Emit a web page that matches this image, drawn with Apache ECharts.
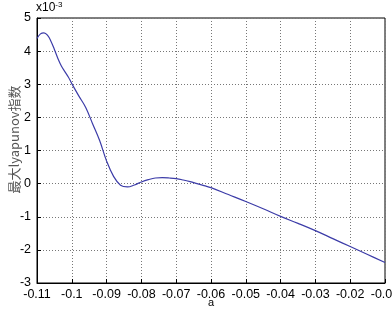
<!DOCTYPE html>
<html><head><meta charset="utf-8">
<script src="https://cdn.jsdelivr.net/npm/echarts@6/dist/echarts.min.js"></script>
<style>html,body{margin:0;padding:0;background:#fff}#c{width:392px;height:310px}</style>
</head><body><div id="c"></div>
<script>
const aValues = [-0.11,-0.109,-0.108,-0.107,-0.106,-0.105,-0.104,-0.103,-0.102,-0.101,-0.1,-0.098,-0.096,-0.094,-0.092,-0.09,-0.088,-0.086,-0.084,-0.082,-0.08,-0.078,-0.076,-0.074,-0.072,-0.07,-0.068,-0.066,-0.064,-0.062,-0.06,-0.055,-0.05,-0.045,-0.04,-0.035,-0.03,-0.025,-0.02,-0.015,-0.01];
const lyapunov = [4.38,4.52,4.55,4.48,4.3,4.05,3.78,3.55,3.38,3.22,3.02,2.65,2.3,1.8,1.3,0.68,0.22,-0.05,-0.1,-0.04,0.05,0.12,0.17,0.18,0.17,0.15,0.11,0.06,0.0,-0.06,-0.12,-0.33,-0.54,-0.76,-0.99,-1.2,-1.42,-1.66,-1.9,-2.14,-2.38];
const xTicks = {min:-0.11, max:-0.01, step:0.01};
const yTicks = {min:-3, max:5, step:1};
const font = 'Liberation Sans, Arial, sans-serif';
const chart = echarts.init(document.getElementById('c'));
chart.setOption({
  animation:false,
  grid:{left:37,right:7,top:18,bottom:27,show:true,borderColor:'#000',borderWidth:1,outerBoundsMode:'none',containLabel:false},
  graphic:[{type:'text',left:36,top:1,style:{text:'x10{s|-3}',fontSize:12,fill:'#000',fontFamily:font,
    rich:{s:{fontSize:8,verticalAlign:'top',padding:[0,0,6,0],fill:'#000',fontFamily:font}}}}],
  xAxis:{type:'value',min:xTicks.min,max:xTicks.max,interval:xTicks.step,
    name:'a',nameLocation:'middle',nameGap:14,nameMoveOverlap:false,nameTextStyle:{fontSize:11,color:'#000',fontFamily:font,verticalAlign:'top'},
    axisLine:{onZero:false,lineStyle:{color:'#000'}},axisTick:{inside:true,length:4,lineStyle:{color:'#000'}},
    axisLabel:{fontSize:12.5,color:'#000',fontFamily:font,margin:5,formatter:v=>String(Number(v.toFixed(2)))},
    splitLine:{lineStyle:{color:'#777',type:[1,2],width:1}}},
  yAxis:{type:'value',min:yTicks.min,max:yTicks.max,interval:yTicks.step,
    name:'最大lyapunov指数',nameLocation:'middle',nameGap:16,nameMoveOverlap:false,nameTextStyle:{fontSize:13,color:'#555',fontFamily:'Noto Sans CJK SC, sans-serif',padding:[0,0,0,22]},
    axisLine:{onZero:false,lineStyle:{color:'#000'}},axisTick:{inside:true,length:4,lineStyle:{color:'#000'}},
    axisLabel:{fontSize:12.5,color:'#000',fontFamily:font,margin:6},
    splitLine:{lineStyle:{color:'#777',type:[1,2],width:1}}},
  series:[{type:'line',data:aValues.map((a,i)=>[a,lyapunov[i]]),smooth:0.4,showSymbol:false,
    lineStyle:{color:'#3c3ca8',width:1.2}}]
});
</script></body></html>
